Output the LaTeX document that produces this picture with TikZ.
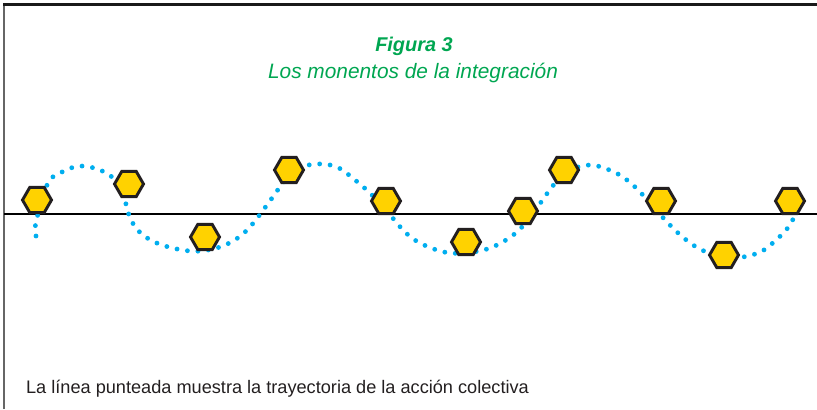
\documentclass[tikz,border=0pt]{standalone}
\usepackage{fontspec}
\setmainfont{Liberation Sans}
\usetikzlibrary{shapes.geometric}

\definecolor{titlegreen}{RGB}{0,166,81}
\definecolor{dotblue}{RGB}{0,174,239}
\definecolor{hexyellow}{RGB}{255,210,0}
\definecolor{hexline}{RGB}{35,31,32}

\tikzset{
  momento/.style={regular polygon, regular polygon sides=6, minimum size=0.87cm,
    inner sep=0pt, draw=hexline, line width=2.5pt, fill=hexyellow},
  trayectoria/.style={dotblue, line width=0.145cm, line cap=round,
    dash pattern=on 0pt off 0.315cm},
  titulo/.style={text=titlegreen, font=\fontsize{17.8}{20}\selectfont\itshape, anchor=base}
}

\begin{document}
\begin{tikzpicture}[x=0.03cm,y=-0.03cm]
        \useasboundingbox (0,0) rectangle (817,409);
        % marco
        \draw[black!60, line width=1.6pt] (4,409) -- (4,4.5);
        \draw[black!90, line width=1.8pt] (3,4.5) -- (817,4.5);
        \node[titulo, font=\fontsize{17}{20}\selectfont\bfseries\itshape] (fig) at (414,51) {Figura 3};
        \node[titulo] (sub) at (413,78.5) {Los monentos de la integración};
        % eje
        \draw[line width=0.9pt] (4,214) -- (817,214);
        % trayectoria
        \draw[trayectoria] plot[smooth, tension=0.6] coordinates {
          (36,236) (36,222) (48,183) (62,172) (80,166) (100,170) (115,180)
          (124,198) (131,220) (143,235) (162,245) (190,251) (213,249)
          (233,241) (249,228) (267,205) (280,187) (295,170) (316,164)
          (337,167) (355,180) (371,194) (386,210) (406,233) (424,245)
          (450,253) (479,251) (499,244) (518,231) (534,212) (549,191)
          (565,173) (590,165) (616,173) (634,186) (650,203) (668,223)
          (685,239) (704,251) (730,258) (758,253) (776,240) (791,223) (804,193)};
        % momentos
        \node[momento] (m1)  at (37,200)  {};
        \node[momento] (m2)  at (129,184) {};
        \node[momento] (m3)  at (205,237) {};
        \node[momento] (m4)  at (289,170) {};
        \node[momento] (m5)  at (386,201) {};
        \node[momento] (m6)  at (466,242) {};
        \node[momento] (m7)  at (523,211) {};
        \node[momento] (m8)  at (564,170) {};
        \node[momento] (m9)  at (661,201) {};
        \node[momento] (m10) at (724,255) {};
        \node[momento] (m11) at (790,201) {};
        \node[anchor=base west, font=\fontsize{15.5}{18}\selectfont, text=hexline] (nota) at (22,393)
          {La línea punteada muestra la trayectoria de la acción colectiva};
      \end{tikzpicture}
\end{document}
